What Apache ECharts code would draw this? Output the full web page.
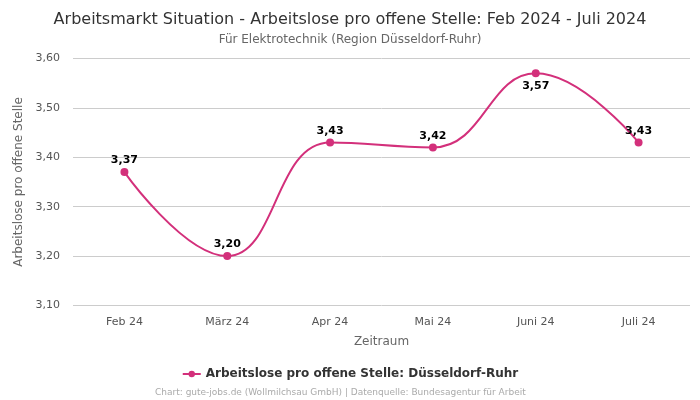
<!DOCTYPE html>
<html><head><meta charset="utf-8">
<script src="https://cdn.jsdelivr.net/npm/echarts@6/dist/echarts.min.js"></script>
<style>html,body{margin:0;padding:0;background:#fff}#c{width:700px;height:400px}</style>
</head><body><div id="c"></div>
<script>
const categories = ['Feb 24', 'März 24', 'Apr 24', 'Mai 24', 'Juni 24', 'Juli 24'];
const values = [3.37, 3.20, 3.43, 3.42, 3.57, 3.43];
const labelBelow = [false, false, false, false, true, false];
const yTicks = {min: 3.1, max: 3.6, interval: 0.1};
const fmt = v => v.toFixed(2).replace('.', ',');
const color = '#d3307b';
const chart = echarts.init(document.getElementById('c'), null, {renderer: 'canvas'});
chart.setOption({
  animation: false,
  textStyle: {fontFamily: 'DejaVu Sans'},
  title: [{
    text: 'Arbeitsmarkt Situation - Arbeitslose pro offene Stelle: Feb 2024 - Juli 2024',
    left: 'center', top: 7,
    textStyle: {fontFamily: 'DejaVu Sans', fontSize: 16, fontWeight: 'normal', color: '#333'}
  }, {
    text: 'Für Elektrotechnik (Region Düsseldorf-Ruhr)',
    left: 'center', top: 29,
    textStyle: {fontFamily: 'DejaVu Sans', fontSize: 12, fontWeight: 'normal', color: '#666'}
  }, {
    text: 'Chart: gute-jobs.de (Wollmilchsau GmbH) | Datenquelle: Bundesagentur für Arbeit',
    left: 150, top: 383,
    textStyle: {fontFamily: 'DejaVu Sans', fontSize: 9, fontWeight: 'normal', color: '#aaa'}
  }],
  legend: {
    bottom: 15, left: 'center',
    itemWidth: 18, itemHeight: 8,
    textStyle: {fontFamily: 'DejaVu Sans', fontSize: 12, fontWeight: 'bold', color: '#333'},
    data: ['Arbeitslose pro offene Stelle: Düsseldorf-Ruhr']
  },
  grid: {left: 73, right: 10, top: 58.5, bottom: 94.5},
  xAxis: {
    type: 'category', data: categories, boundaryGap: true,
    name: 'Zeitraum', nameLocation: 'middle', nameGap: 30,
    nameTextStyle: {fontSize: 12, color: '#666'},
    axisLine: {show: false}, axisTick: {show: false},
    axisLabel: {fontSize: 11, color: '#555', margin: 11}
  },
  yAxis: {
    type: 'value', min: yTicks.min, max: yTicks.max, interval: yTicks.interval,
    name: 'Arbeitslose pro offene Stelle', nameLocation: 'middle', nameGap: 40,
    nameTextStyle: {fontSize: 12, color: '#666'},
    axisLabel: {fontSize: 11, color: '#555', formatter: v => fmt(v), margin: 13},
    splitLine: {lineStyle: {color: '#ccc'}}
  },
  series: [{
    name: 'Arbeitslose pro offene Stelle: Düsseldorf-Ruhr',
    type: 'line', smooth: 0.45,
    data: values.map((v, i) => ({value: v, label: {position: labelBelow[i] ? 'bottom' : 'top', distance: labelBelow[i] ? 3 : 2}})),
    symbol: 'circle', symbolSize: 8,
    itemStyle: {color: color},
    lineStyle: {color: color, width: 2},
    label: {show: true, formatter: p => fmt(p.value), fontSize: 11, fontWeight: 'bold', color: '#000'}
  }]
});
</script></body></html>
